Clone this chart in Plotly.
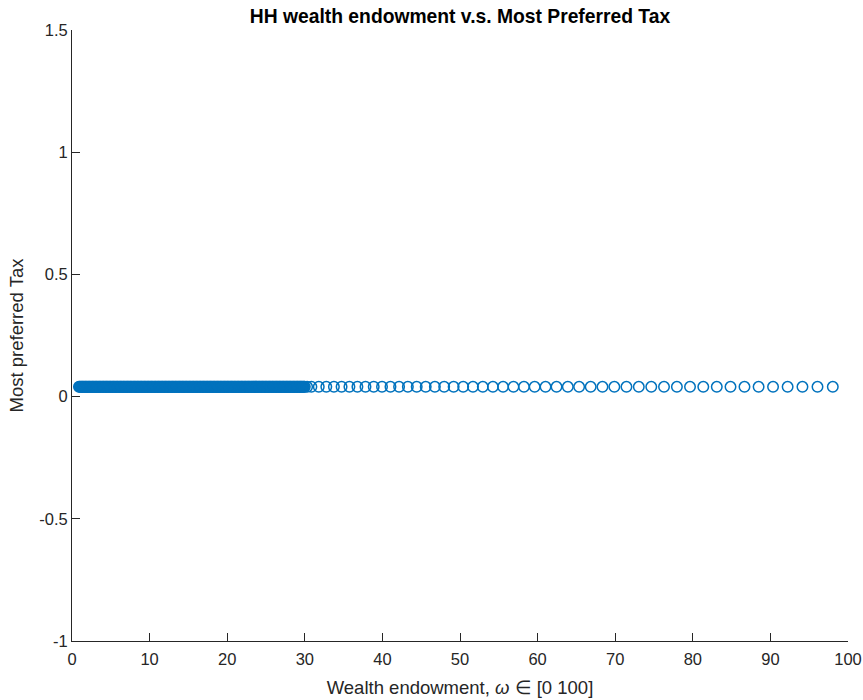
import plotly.graph_objects as go

# Household wealth endowments (grid of households)
wealth_dense = [
    0.9, 1.0, 1.1, 1.2, 1.3, 1.4, 1.5, 1.6, 1.7, 1.8, 1.9, 2.0, 2.1, 2.2, 2.3,
    2.4, 2.5, 2.6, 2.7, 2.8, 2.9, 3.0, 3.1, 3.2, 3.3, 3.4, 3.5, 3.6, 3.7, 3.8,
    3.9, 4.0, 4.1, 4.2, 4.3, 4.4, 4.5, 4.6, 4.7, 4.8, 4.9, 5.0, 5.1, 5.2, 5.3,
    5.4, 5.5, 5.6, 5.7, 5.8, 5.9, 6.0, 6.1, 6.2, 6.3, 6.4, 6.5, 6.6, 6.7, 6.8,
    6.9, 7.0, 7.1, 7.2, 7.3, 7.4, 7.5, 7.6, 7.7, 7.8, 7.9, 8.0, 8.1, 8.2, 8.3,
    8.4, 8.5, 8.6, 8.7, 8.8, 8.9, 9.0, 9.1, 9.2, 9.3, 9.4, 9.5, 9.6, 9.7, 9.8,
    9.9, 10.0, 10.1, 10.2, 10.3, 10.4, 10.5, 10.6, 10.7, 10.8, 10.9, 11.0,
    11.1, 11.2, 11.3, 11.4, 11.5, 11.6, 11.7, 11.8, 11.9, 12.0, 12.1, 12.2,
    12.3, 12.4, 12.5, 12.6, 12.7, 12.8, 12.9, 13.0, 13.1, 13.2, 13.3, 13.4,
    13.5, 13.6, 13.7, 13.8, 13.9, 14.0, 14.1, 14.2, 14.3, 14.4, 14.5, 14.6,
    14.7, 14.8, 14.9, 15.0, 15.1, 15.2, 15.3, 15.4, 15.5, 15.6, 15.7, 15.8,
    15.9, 16.0, 16.1, 16.2, 16.3, 16.4, 16.5, 16.6, 16.7, 16.8, 16.9, 17.0,
    17.1, 17.2, 17.3, 17.4, 17.5, 17.6, 17.7, 17.8, 17.9, 18.0, 18.1, 18.2,
    18.3, 18.4, 18.5, 18.6, 18.7, 18.8, 18.9, 19.0, 19.1, 19.2, 19.3, 19.4,
    19.5, 19.6, 19.7, 19.8, 19.9, 20.0, 20.1, 20.2, 20.3, 20.4, 20.5, 20.6,
    20.7, 20.8, 20.9, 21.0, 21.1, 21.2, 21.3, 21.4, 21.5, 21.6, 21.7, 21.8,
    21.9, 22.0, 22.1, 22.2, 22.3, 22.4, 22.5, 22.6, 22.7, 22.8, 22.9, 23.0,
    23.1, 23.2, 23.3, 23.4, 23.5, 23.6, 23.7, 23.8, 23.9, 24.0, 24.1, 24.2,
    24.3, 24.4, 24.5, 24.6, 24.7, 24.8, 24.9, 25.0, 25.1, 25.2, 25.3, 25.4,
    25.5, 25.6, 25.7, 25.8, 25.9, 26.0, 26.1, 26.2, 26.3, 26.4, 26.5, 26.6,
    26.7, 26.8, 26.9, 27.0, 27.1, 27.2, 27.3, 27.4, 27.5, 27.6, 27.7, 27.8,
    27.9, 28.0, 28.1, 28.2, 28.3, 28.4, 28.5, 28.6, 28.7, 28.8, 28.9, 29.0,
    29.1, 29.2, 29.3, 29.4, 29.5, 29.6, 29.7, 29.8, 29.9, 30.0, 30.3,
]
wealth_sparse = [
    30.85, 31.80, 32.77, 33.75, 34.74, 35.75, 36.78, 37.82, 38.88, 39.95,
    41.04, 42.15, 43.28, 44.42, 45.58, 46.76, 47.96, 49.18, 50.41, 51.67,
    52.94, 54.24, 55.55, 56.89, 58.24, 59.62, 61.02, 62.44, 63.89, 65.35,
    66.84, 68.36, 69.89, 71.45, 73.04, 74.65, 76.29, 77.95, 79.64, 81.35,
    83.09, 84.86, 86.66, 88.48, 90.34, 92.22, 94.13, 96.07, 98.04,
]
wealth = wealth_dense + wealth_sparse

# Most preferred tax rate is the same for every household
preferred_tax_rate = 0.04
most_preferred_tax = [preferred_tax_rate for _ in wealth]

x_ticks = [0, 10, 20, 30, 40, 50, 60, 70, 80, 90, 100]
y_ticks = [-1, -0.5, 0, 0.5, 1, 1.5]
y_tick_text = ["-1", "-0.5", "0", "0.5", "1", "1.5"]

AXIS_COLOR = "#262626"
BLUE = "#0072BD"
FONT = "Liberation Sans, Arial, sans-serif"

fig = go.Figure(
    go.Scatter(
        x=wealth,
        y=most_preferred_tax,
        mode="markers",
        marker=dict(
            symbol="circle-open",
            size=10.5,
            color=BLUE,
            line=dict(width=1.5, color=BLUE),
        ),
        hoverinfo="x+y",
    )
)

fig.update_layout(
    width=863,
    height=700,
    margin=dict(l=72, r=15, t=30, b=59),
    paper_bgcolor="white",
    plot_bgcolor="white",
    showlegend=False,
    font=dict(family=FONT, color=AXIS_COLOR, size=16.5),
    title=dict(
        text="<b>HH wealth endowment v.s. Most Preferred Tax</b>",
        font=dict(family=FONT, size=19.3, color="black"),
        x=0.5,
        xref="paper",
        xanchor="center",
        y=1 - 16 / 700,
        yref="container",
        yanchor="middle",
    ),
)

fig.update_xaxes(
    range=[0, 100],
    tickvals=x_ticks,
    ticks="inside",
    ticklen=8,
    tickwidth=1,
    tickcolor=AXIS_COLOR,
    ticklabelstandoff=3,
    showline=True,
    linecolor=AXIS_COLOR,
    linewidth=1,
    mirror=False,
    showgrid=False,
    zeroline=False,
    automargin=False,
    tickfont=dict(size=16.5, color=AXIS_COLOR),
    title=dict(
        text="Wealth endowment, <i>ω</i> ∈ [0 100]",
        font=dict(size=18.5, color=AXIS_COLOR),
        standoff=14,
    ),
)

fig.update_yaxes(
    range=[-1, 1.5],
    tickvals=y_ticks,
    ticktext=y_tick_text,
    ticks="inside",
    ticklen=8,
    tickwidth=1,
    tickcolor=AXIS_COLOR,
    showline=True,
    linecolor=AXIS_COLOR,
    linewidth=1,
    mirror=False,
    showgrid=False,
    zeroline=False,
    automargin=False,
    tickfont=dict(size=16.5, color=AXIS_COLOR),
    title=dict(
        text="Most preferred Tax",
        font=dict(size=18.5, color=AXIS_COLOR),
        standoff=10,
    ),
)

fig.write_html("out.html")
